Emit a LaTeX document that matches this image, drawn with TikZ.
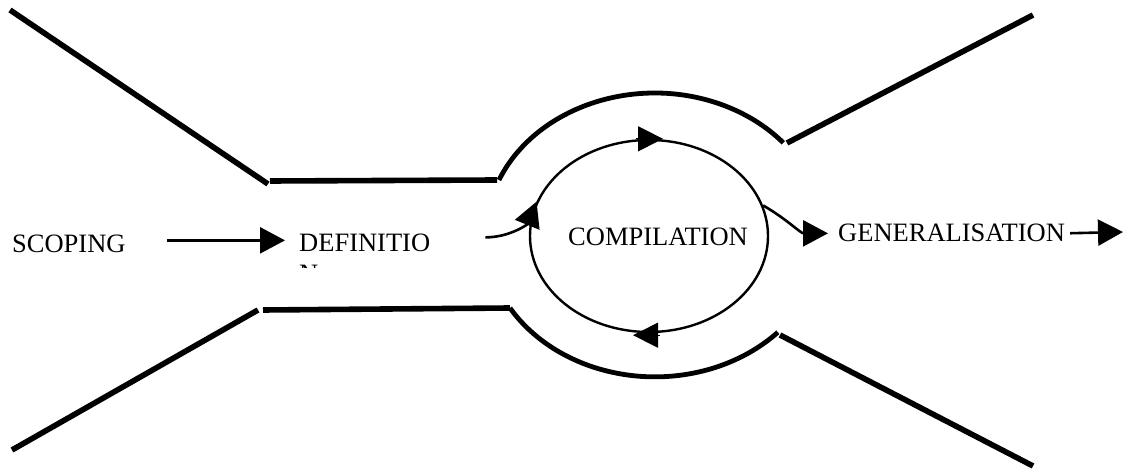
\documentclass[tikz,border=0pt]{standalone}
\usepackage{fontspec}
\setmainfont{Liberation Serif}
\usetikzlibrary{arrows.meta,shapes.geometric}
\tikzset{
  wall/.style={line width=5.6pt},
  rim/.style={line width=4.8pt},
  lbl/.style={inner sep=0pt, anchor=base west, font=\fontsize{26.5}{31}\selectfont},
  arr/.style={line width=2.6pt, -{Triangle[length=25pt,width=26pt]}},
  cycle/.style={draw, ellipse, line width=2.4pt, inner sep=0pt, minimum width=238pt, minimum height=192pt},
  tip/.style={-{Triangle[length=25pt,width=25pt]}, line width=1pt}
}
\begin{document}
\begin{tikzpicture}[x=1pt,y=-1pt]
\useasboundingbox (0,0) rectangle (1133,470);
% outer funnel shape
\draw[wall] (10,10) -- (268,184);
\draw[wall] (270,181) -- (497,180);
\draw[rim] (499,180) arc[start angle=157.2, end angle=40.5, x radius=169pt, y radius=142pt];
\draw[wall] (787,143) -- (1033,15);
\draw[wall] (12,450) -- (258,310);
\draw[wall] (263,310) -- (510,308);
\draw[rim] (510,308) arc[start angle=211, end angle=316.7, x radius=169pt, y radius=142pt];
\draw[wall] (780,335) -- (1033,466);
% nodes
\node[cycle] (cyc) at (649,236) {};
\node[lbl] (scop) at (12,253) {SCOPING};
\node[lbl] (def) at (299,252) {DEFINITIO};
\begin{scope}
\clip (290,258) rectangle (340,268);
\node[lbl] (defn) at (299,283) {N};
\end{scope}
\node[lbl] (comp) at (568,246) {COMPILATION};
\node[lbl] (gen) at (838,242) {GENERALISATION};
\coordinate (genend) at (1123,232);
% arrows on the cycle
\draw[tip] ([xshift=-13pt]cyc.north) -- ([xshift=14pt]cyc.north);
\draw[tip] ([xshift=11pt,yshift=-2pt]cyc.south) -- ([xshift=-16pt,yshift=-2pt]cyc.south);
% connectors
\draw[arr, shorten <=41pt, shorten >=14pt] ([yshift=4pt]scop.east) -- ([yshift=4pt]scop.east -| def.west);
\draw[arr] ([xshift=55pt,yshift=6pt]def.east) to[out=0, in=-112] (cyc.163);
\draw[arr] (cyc.15) to[out=-30, in=180] ([xshift=-10pt]gen.west);
\draw[arr, shorten <=5pt] (gen.east) -- (genend);
\end{tikzpicture}
\end{document}
